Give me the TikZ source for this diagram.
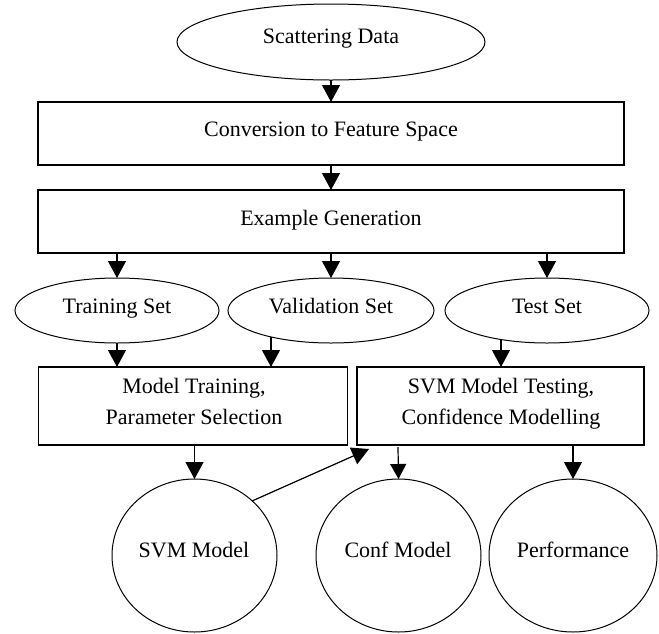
\documentclass[tikz,border=0pt]{standalone}
\usepackage{fontspec}
\setmainfont{Liberation Serif}
\usetikzlibrary{shapes.geometric,arrows.meta}
\begin{document}
\begin{tikzpicture}[x=1pt,y=-1pt,
  every node/.style={inner sep=0pt,outer sep=0pt},
  txt/.style={anchor=base,font=\fontsize{22}{26}\selectfont},
  boxs/.style={draw,line width=1.3pt,rectangle},
  ell/.style={draw,line width=1pt,ellipse},
  arr/.style={line width=1.2pt,-{Triangle[length=17pt,width=18pt]}},
  arrs/.style={line width=1.2pt,-{Triangle[length=15pt,width=16pt]}}]
\useasboundingbox (0,0) rectangle (659,633);
% shapes
\node[ell,minimum width=308pt,minimum height=76pt] (sd) at (331,42) {};
\node[boxs,minimum width=586pt,minimum height=63pt] (conv) at (331,133.5) {};
\node[boxs,minimum width=586pt,minimum height=63pt] (gen) at (331,221.5) {};
\node[ell,minimum width=204pt,minimum height=65pt] (tr) at (117,310.5) {};
\node[ell,minimum width=206pt,minimum height=65pt] (va) at (331,310.5) {};
\node[ell,minimum width=204pt,minimum height=65pt] (te) at (547,310.5) {};
\node[boxs,minimum width=309pt,minimum height=78pt] (mt) at (193,406) {};
\node[boxs,minimum width=287pt,minimum height=78pt] (st) at (500.5,406) {};
\node[ell,minimum width=165pt,minimum height=153pt] (svm) at (194.5,555.5) {};
\node[ell,minimum width=165pt,minimum height=153pt] (cm) at (398.5,555.5) {};
\node[ell,minimum width=168pt,minimum height=153pt] (pf) at (573,555.5) {};
% texts
\node[txt] (tsd) at (331,43) {Scattering Data};
\node[txt] (tconv) at (331,136) {Conversion to Feature Space};
\node[txt] (tgen) at (331,225) {Example Generation};
\node[txt] (ttr) at (117,313) {Training Set};
\node[txt] (tva) at (331,313) {Validation Set};
\node[txt] (tte) at (547,313) {Test Set};
\node[txt] (tmt1) at (194,393) {Model Training,};
\node[txt] (tmt2) at (194,424) {Parameter Selection};
\node[txt] (tst1) at (501,393) {SVM Model Testing,};
\node[txt] (tst2) at (501,424) {Confidence Modelling};
\node[txt] (tsvm) at (194,557) {SVM Model};
\node[txt] (tcm) at (398,557) {Conf Model};
\node[txt] (tpf) at (573,557) {Performance};
% connectors
\draw[arr] (sd.south) -- (conv.north);
\draw[arr] (conv.south) -- (gen.north);
\draw[arr] (gen.south -| tr.north) -- (tr.north);
\draw[arr] (gen.south) -- (va.north);
\draw[arr] (gen.south -| te.north) -- (te.north);
\draw[arr] (tr.south) -- (tr.south |- mt.north);
\coordinate (vs) at (271,337);
\draw[arr] (vs) -- (vs |- mt.north);
\coordinate (ts) at (501,339);
\draw[arr] (ts) -- (ts |- st.north);
\draw[arr] (mt.south -| svm.north) -- (svm.north);
\coordinate (cs) at (398,447);
\draw[arrs] (cs) -- (cm.north);
\draw[arr] (st.south -| pf.north) -- (pf.north);
\coordinate (sv) at (252,501);
\coordinate (ht) at (369,449);
\draw[arr] (sv) -- (ht);
\end{tikzpicture}
\end{document}
